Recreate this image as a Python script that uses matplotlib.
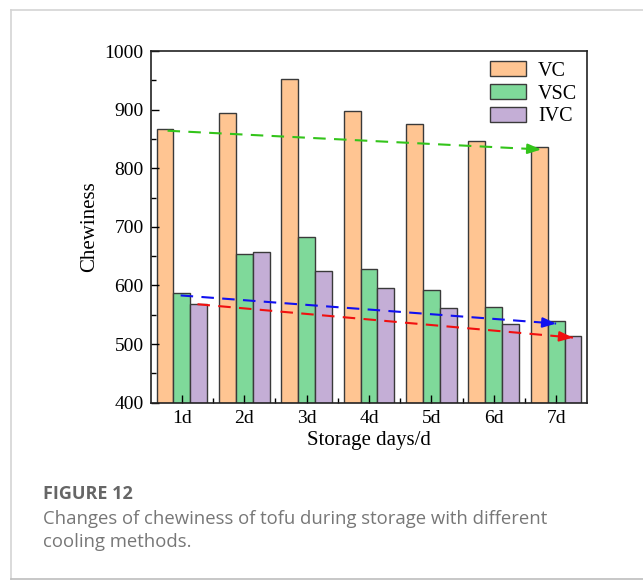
import numpy as np
import matplotlib
matplotlib.use("Agg")
import matplotlib.pyplot as plt
from matplotlib.ticker import MultipleLocator, FixedLocator

days = ["1d", "2d", "3d", "4d", "5d", "6d", "7d"]
vc = [867, 894, 953, 897, 876, 846, 836]
vsc = [587, 654, 682, 628, 593, 563, 539]
ivc = [569, 657, 625, 595, 562, 535, 514]

# trend arrows: (x0, y0, x1, y1) in data units
trend_vc = (0.77, 864, 6.76, 832)
trend_vsc = (0.98, 583, 7.0, 535)
trend_ivc = (1.25, 568, 7.27, 511)

plt.rcParams['font.family'] = ['Liberation Serif', 'DejaVu Serif']

fig = plt.figure(figsize=(6.43, 5.81), dpi=100)
# page frame around figure + caption
fig.add_artist(plt.Line2D([11/643, 11/643], [1 - 10/581, 1 - 579/581], color='#d4d4d4', lw=1.2))
fig.add_artist(plt.Line2D([11/643, 1.0], [1 - 10/581, 1 - 10/581], color='#d4d4d4', lw=1.2))
fig.add_artist(plt.Line2D([11/643, 1.0], [1 - 579/581, 1 - 579/581], color='#bdbdbd', lw=1.2))

ax = fig.add_axes([0.2344, 0.3069, 0.679, 0.6053])

x = np.arange(1, len(days) + 1)
w = 0.27
ec = '#3a3a3a'
ax.bar(x - w, vc, w, color='#FFC592', edgecolor=ec, linewidth=1, label='VC')
ax.bar(x, vsc, w, color='#7FD99A', edgecolor=ec, linewidth=1, label='VSC')
ax.bar(x + w, ivc, w, color='#C4AED6', edgecolor=ec, linewidth=1, label='IVC')

def trend(t, color):
    x0, y0, x1, y1 = t
    ax.plot([x0, x1], [y0, y1], color=color, lw=1.5, ls=(0, (6, 4)), zorder=4)
    # short solid head at the end of the dashed line
    fx = x1 - (x1 - x0) * 0.03
    fy = y1 - (y1 - y0) * 0.03
    ax.annotate('', xy=(x1, y1), xytext=(fx, fy),
                arrowprops=dict(arrowstyle='-|>,head_length=0.8,head_width=0.3',
                                color=color, lw=1.5, shrinkA=0, shrinkB=0), zorder=5)

trend(trend_vc, '#33C41A')
trend(trend_vsc, '#1010F0')
trend(trend_ivc, '#F01010')

ax.set_xlim(0.5, 7.5)
ax.set_ylim(400, 1000)
ax.set_xticks(x)
ax.set_xticklabels(days)
ax.xaxis.set_minor_locator(FixedLocator(x[:-1] + 0.5))
ax.yaxis.set_major_locator(MultipleLocator(100))
ax.yaxis.set_minor_locator(MultipleLocator(50))
ax.tick_params(which='major', direction='in', length=6, width=1, labelsize=14, pad=5)
ax.tick_params(which='minor', direction='in', length=3.5, width=1)
ax.tick_params(top=False, right=False, which='both')
for s in ax.spines.values():
    s.set_linewidth(1.2)
    s.set_color('#222222')

ax.set_ylabel('Chewiness', fontsize=15, labelpad=4)
ax.set_xlabel('Storage days/d', fontsize=15, labelpad=3)

ax.legend(loc='upper right', frameon=False, fontsize=14.5, handlelength=1.8,
          handleheight=0.8, labelspacing=0.15, handletextpad=0.6,
          borderaxespad=0.3, borderpad=0.2)

cap_font = ['Open Sans', 'DejaVu Sans']
fig.text(43/643, 1 - 494/581, 'FIGURE 12', fontsize=13, fontweight='bold',
         color='#666666', family=cap_font, va='center')
fig.text(43/643, 1 - 519/581, 'Changes of chewiness of tofu during storage with different',
         fontsize=13.3, color='#777777', family=cap_font, va='center')
fig.text(43/643, 1 - 542/581, 'cooling methods.',
         fontsize=13.3, color='#777777', family=cap_font, va='center')

fig.savefig('out.png', dpi=100, facecolor='white')
